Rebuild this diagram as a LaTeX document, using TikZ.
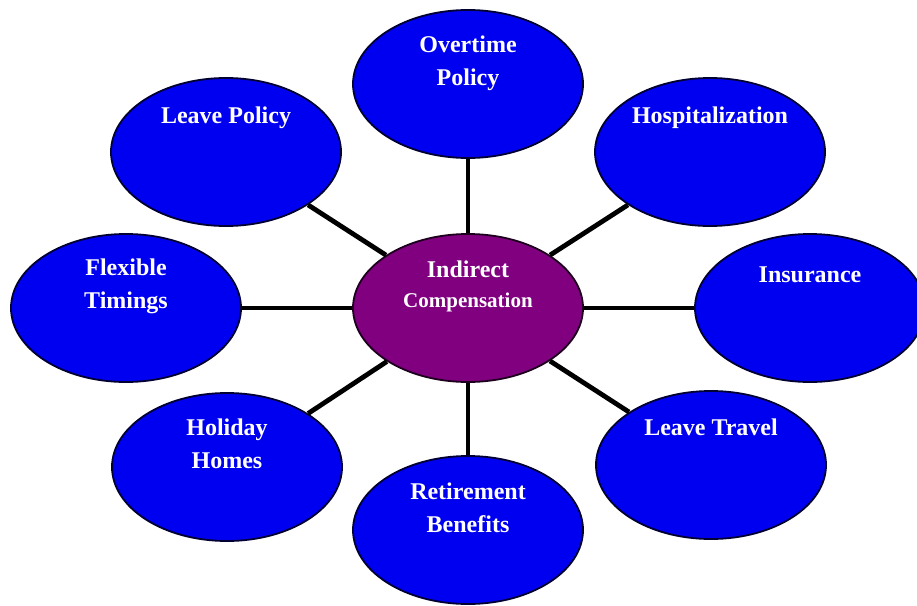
\documentclass[tikz,border=0pt]{standalone}
\usepackage{fontspec}
\setmainfont{Liberation Serif}
\usetikzlibrary{shapes.geometric}
\definecolor{bubble}{RGB}{0,0,240}
\definecolor{hub}{RGB}{128,0,128}
\definecolor{rimblue}{RGB}{0,0,50}
\definecolor{rimhub}{RGB}{30,0,30}
\tikzset{
  bubblenode/.style={ellipse, draw=rimblue, line width=1.8pt, fill=bubble,
    minimum width=230pt, minimum height=148pt, inner sep=0pt},
  hubnode/.style={bubblenode, fill=hub, draw=rimhub},
  labeltext/.style={text=white, font=\bfseries\fontsize{24}{33}\selectfont,
    align=center, inner sep=0pt},
  spoke/.style={line width=4.8pt, black}
}
\begin{document}
\begin{tikzpicture}[x=1pt,y=-1pt]
\useasboundingbox (0,0) rectangle (917,605);
\clip (0,0) rectangle (917,605);
% bubbles
\node[hubnode] (c) at (468,308) {};
\node[bubblenode] (ot) at (468,84) {};
\node[bubblenode] (lp) at (226,152) {};
\node[bubblenode] (hs) at (710,152) {};
\node[bubblenode] (ft) at (126,308) {};
\node[bubblenode] (in) at (810,308) {};
\node[bubblenode] (hh) at (227,467) {};
\node[bubblenode] (lt) at (711,465) {};
\node[bubblenode] (rb) at (468,530) {};
% spokes
\foreach \t in {ot,lp,hs,ft,in,hh,lt,rb}{
  \draw[spoke] (c) -- (\t);
}
% texts
\node[labeltext] (ctx) at ([yshift=22pt]c.center) {Indirect\\[-3pt]{\fontsize{21}{28}\selectfont Compensation}};
\node[labeltext] (ottx) at ([yshift=21pt]ot.center) {Overtime\\Policy};
\node[labeltext] (lptx) at ([yshift=34pt]lp.center) {Leave Policy};
\node[labeltext] (hstx) at ([yshift=34pt]hs.center) {Hospitalization};
\node[labeltext] (fttx) at ([yshift=22pt]ft.center) {Flexible\\Timings};
\node[labeltext] (intx) at ([yshift=33pt]in.center) {Insurance};
\node[labeltext] (hhtx) at ([yshift=23pt]hh.center) {Holiday\\Homes};
\node[labeltext] (lttx) at ([yshift=38pt]lt.center) {Leave Travel};
\node[labeltext] (rbtx) at ([yshift=22pt]rb.center) {Retirement\\Benefits};
\end{tikzpicture}
\end{document}
